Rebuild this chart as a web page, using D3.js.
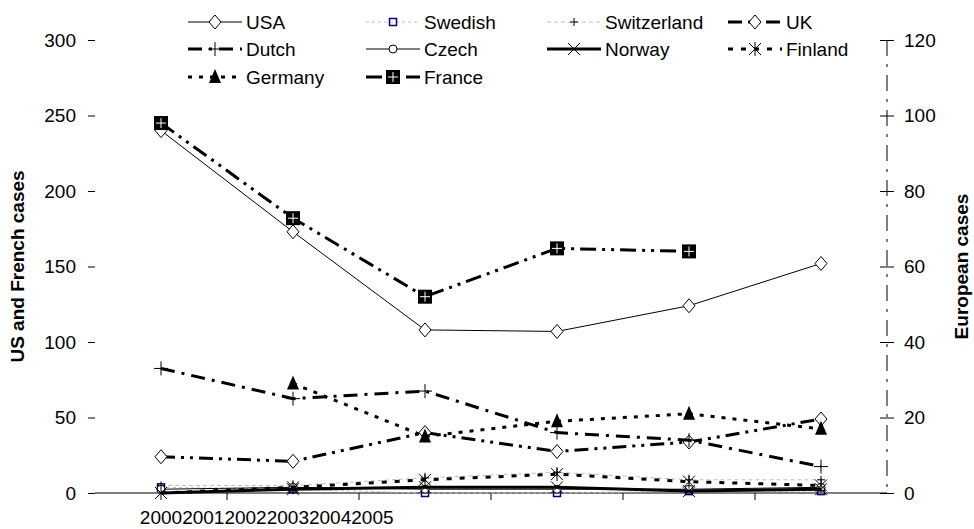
<!DOCTYPE html>
<html><head><meta charset="utf-8">
<script src="https://cdn.jsdelivr.net/npm/d3@7"></script>
<style>body{margin:0;background:#fff} text{font-family:Arial,"Liberation Sans",sans-serif}</style>
</head><body><svg id="c" width="974" height="529"></svg>
<script>
const years = ["2000","2001","2002","2003","2004","2005"];
const usa = [240,173,108,107,124,152];
const france = [245,182,130,162,160,null];
const dutch = [33,25,27,16,14,7];
const germany = [null,29,15,19,21,17];
const uk = [9.6,8.4,16,11,13.5,19.6];
const swedish = [1.5,1,0,0,0.5,0.5];
const switzerland = [2,2,4,5.5,3.5,3.5];
const czech = [1,1.5,1,1,1,1.5];
const norway = [0,1,1.5,1.5,0.5,1];
const finland = [0,1.5,3.5,5,3,2];
const leftTicks = [0,50,100,150,200,250,300];
const rightTicks = [0,20,40,60,80,100,120];
const seriesNames = ["USA","Swedish","Switzerland","UK","Dutch","Czech","Norway","Finland","Germany","France"];

const svg = d3.select("#c");
const X0 = 95, X1 = 887, Y0 = 493, Y1 = 40;
const x = d3.scaleBand().domain(years).range([X0, X1]);
const yL = d3.scaleLinear().domain([0,300]).range([Y0, Y1]);
const yR = d3.scaleLinear().domain([0,120]).range([Y0, Y1]);
const FS = 19;

const styles = {
  USA:{vals:usa, axis:"L", stroke:"#000", w:1, dash:null, m:"diamond"},
  Swedish:{vals:swedish, axis:"R", stroke:"#c0c0c0", w:1, dash:"3,3", m:"square"},
  Switzerland:{vals:switzerland, axis:"R", stroke:"#c0c0c0", w:1, dash:"4,3", m:"plusS"},
  UK:{vals:uk, axis:"R", stroke:"#000", w:3, dash:"14,6,3,6,3,6", m:"diamond"},
  Dutch:{vals:dutch, axis:"R", stroke:"#000", w:3, dash:"14,7,3,7", m:"plus"},
  Czech:{vals:czech, axis:"R", stroke:"#000", w:1, dash:null, m:"circle"},
  Norway:{vals:norway, axis:"R", stroke:"#000", w:3, dash:null, m:"x"},
  Finland:{vals:finland, axis:"R", stroke:"#000", w:3, dash:"5,8", m:"star"},
  Germany:{vals:germany, axis:"R", stroke:"#000", w:3, dash:"4,7", m:"tri"},
  France:{vals:france, axis:"L", stroke:"#000", w:3, dash:"16,6,3,6,3,6", m:"fsq"}
};

function marker(g, type, cx, cy){
  const t = g.append("g").attr("transform",`translate(${cx},${cy})`);
  switch(type){
    case "diamond": t.append("path").attr("d","M0,-7L6,0L0,7L-6,0Z").attr("fill","#fff").attr("stroke","#000").attr("stroke-width",1); break;
    case "square": t.append("rect").attr("x",-3.5).attr("y",-3.5).attr("width",7).attr("height",7).attr("fill","none").attr("stroke","#000080").attr("stroke-width",1.5); break;
    case "plusS": t.append("path").attr("d","M-4,0H4M0,-4V4").attr("stroke","#000").attr("stroke-width",1); break;
    case "plus": t.append("path").attr("d","M-7,0H7M0,-7V7").attr("stroke","#000").attr("stroke-width",1); break;
    case "circle": t.append("circle").attr("r",4).attr("fill","#fff").attr("stroke","#000").attr("stroke-width",1); break;
    case "x": t.append("path").attr("d","M-6,-6L6,6M-6,6L6,-6").attr("stroke","#000").attr("stroke-width",1); break;
    case "star": t.append("path").attr("d","M-6,-6L6,6M-6,6L6,-6M0,-7V7").attr("stroke","#000").attr("stroke-width",1); break;
    case "tri": t.append("path").attr("d","M0,-8L6,6L-6,6Z").attr("fill","#000"); break;
    case "fsq":
      t.append("rect").attr("x",-7).attr("y",-7).attr("width",14).attr("height",14).attr("fill","#000");
      t.append("path").attr("d","M-5,0H5M0,-5V5").attr("stroke","#fff").attr("stroke-width",1); break;
  }
}

// x axis line & ticks at category boundaries
const bounds = years.map(y => x(y)).concat([X1]);
svg.append("line").attr("x1",X0).attr("x2",X1).attr("y1",Y0).attr("y2",Y0).attr("stroke","#000");
svg.selectAll(".xt").data(bounds.slice(1,-1)).enter().append("line")
  .attr("x1",d=>d).attr("x2",d=>d).attr("y1",Y0).attr("y2",Y0+7).attr("stroke","#000");

// x labels crammed together (as in the reference)
{
  let cursor = null;
  years.forEach((yr,i)=>{
    const t = svg.append("text").attr("y",524).attr("font-size",FS).text(yr);
    const w = t.node().getComputedTextLength();
    if(cursor===null) cursor = x(yr) + x.bandwidth()/2 - w/2;
    t.attr("x",cursor);
    cursor += w;
  });
}

// left axis
const gL = svg.append("g").attr("transform",`translate(${X0},0)`)
  .call(d3.axisLeft(yL).tickValues(leftTicks).tickSize(7).tickPadding(12));
gL.select(".domain").remove();
gL.selectAll("text").attr("font-size",FS).attr("font-family","Arial, 'Liberation Sans', sans-serif").attr("fill","#000");

// right axis
svg.append("line").attr("x1",X1).attr("x2",X1).attr("y1",Y1).attr("y2",Y0)
  .attr("stroke","#000").attr("stroke-dasharray","16,8,3,8");
const gR = svg.append("g").attr("transform",`translate(${X1},0)`)
  .call(d3.axisRight(yR).tickValues(rightTicks).tickSize(7).tickPadding(10));
gR.select(".domain").remove();
gR.selectAll(".tick line").attr("x1",-7).attr("x2",7);
gR.selectAll("text").attr("font-size",FS).attr("font-family","Arial, 'Liberation Sans', sans-serif").attr("fill","#000");

// titles
svg.append("text").attr("transform",`translate(24,${(Y0+Y1)/2}) rotate(-90)`)
  .attr("text-anchor","middle").attr("font-size",FS).attr("font-weight","bold").text("US and French cases");
svg.append("text").attr("transform",`translate(968,${(Y0+Y1)/2}) rotate(-90)`)
  .attr("text-anchor","middle").attr("font-size",FS).attr("font-weight","bold").text("European cases");

// series
const plot = svg.append("g");
seriesNames.forEach(name=>{
  const s = styles[name];
  const ys = s.axis==="L" ? yL : yR;
  const line = d3.line().defined(d=>d.v!=null).x(d=>x(d.k)+x.bandwidth()/2).y(d=>ys(d.v));
  const data = years.map((k,i)=>({k, v:s.vals[i]}));
  plot.append("path").attr("d",line(data)).attr("fill","none").attr("stroke",s.stroke)
    .attr("stroke-width",s.w).attr("stroke-dasharray",s.dash);
  data.filter(d=>d.v!=null).forEach(d=> marker(plot, s.m, x(d.k)+x.bandwidth()/2, ys(d.v)));
});

// legend
const colText = [246, 424, 605, 786];
const rowY = [22, 49, 77];
seriesNames.forEach((name,i)=>{
  const s = styles[name];
  const c = i%4, r = Math.floor(i/4);
  const tx = colText[c], ty = rowY[r];
  const lg = svg.append("g");
  lg.append("line").attr("x1",tx-58).attr("x2",tx-4).attr("y1",ty).attr("y2",ty)
    .attr("stroke",s.stroke).attr("stroke-width",s.w).attr("stroke-dasharray",s.dash);
  marker(lg, s.m, tx-31, ty);
  lg.append("text").attr("x",tx).attr("y",ty).attr("dy","0.35em").attr("font-size",FS).text(name);
});
</script></body></html>
